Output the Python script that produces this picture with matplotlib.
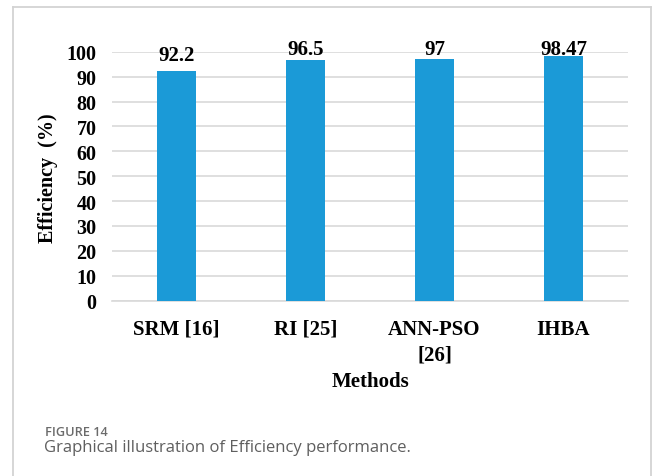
import matplotlib
matplotlib.use("Agg")
import matplotlib.pyplot as plt
from matplotlib.lines import Line2D

categories = ["SRM [16]", "RI [25]", "ANN-PSO\n[26]", "IHBA"]
values = [92.2, 96.5, 97, 98.47]
value_labels = ["92.2", "96.5", "97", "98.47"]
yticks = [0, 10, 20, 30, 40, 50, 60, 70, 80, 90, 100]

W, H = 656, 477
fig = plt.figure(figsize=(W/100, H/100), dpi=100)
fig.patch.set_facecolor("white")

# card frame (top, left and right lines)
fc = "#d3d3d3"
fig.add_artist(Line2D([13/W, 651/W], [1-7.5/H, 1-7.5/H], color=fc, lw=1.3, transform=fig.transFigure))
fig.add_artist(Line2D([13/W, 13/W], [0, 1-7.5/H], color=fc, lw=1.3, transform=fig.transFigure))
fig.add_artist(Line2D([651/W, 651/W], [0, 1-7.5/H], color=fc, lw=1.3, transform=fig.transFigure))

ax = fig.add_axes([112/W, 1-301.7/H, 516/W, 249/H])
x = list(range(len(categories)))
ax.bar(x, values, width=0.31, color="#1b9ad7", zorder=3)
ax.set_xlim(-0.5, 3.5)
ax.set_ylim(0, 100)
ax.set_yticks(yticks)
ax.grid(axis="y", color="#d9d9d9", lw=1.2, zorder=0)
for s in ["top", "right", "left"]:
    ax.spines[s].set_visible(False)
ax.spines["bottom"].set_color("#d9d9d9")
ax.spines["bottom"].set_linewidth(1.2)
ax.tick_params(length=0)
serif = "Liberation Serif"
ax.set_xticks(x)
ax.set_xticklabels(categories, fontfamily=serif, fontweight="bold", fontsize=15, linespacing=1.35)
ax.tick_params(axis="x", pad=13)
ax.tick_params(axis="y", pad=11)
for lab in ax.get_yticklabels():
    lab.set_fontfamily(serif); lab.set_fontweight("bold"); lab.set_fontsize(14.5)
for xi, v, t in zip(x, values, value_labels):
    ax.text(xi, min(v + 4.6, 99.0), t, ha="center", va="baseline",
            fontfamily=serif, fontweight="bold", fontsize=15)

fig.text(371/W, 1-382/H, "Methods", ha="center", va="center",
         fontfamily=serif, fontweight="bold", fontsize=15)
fig.text(48.5/W, 1-178/H, "Efficiency  (%)", ha="center", va="center", rotation=90,
         fontfamily=serif, fontweight="bold", fontsize=14.5)

fig.text(45/W, 1-432.5/H, "FIGURE 14", fontfamily="Open Sans", fontweight="semibold",
         fontsize=9.2, color="#6b6b6b", va="center")
fig.text(44/W, 1-448/H, "Graphical illustration of Efficiency performance.", fontfamily="Open Sans",
         fontsize=12, color="#5f5f5f", va="center")

fig.savefig("out.png", dpi=100)
